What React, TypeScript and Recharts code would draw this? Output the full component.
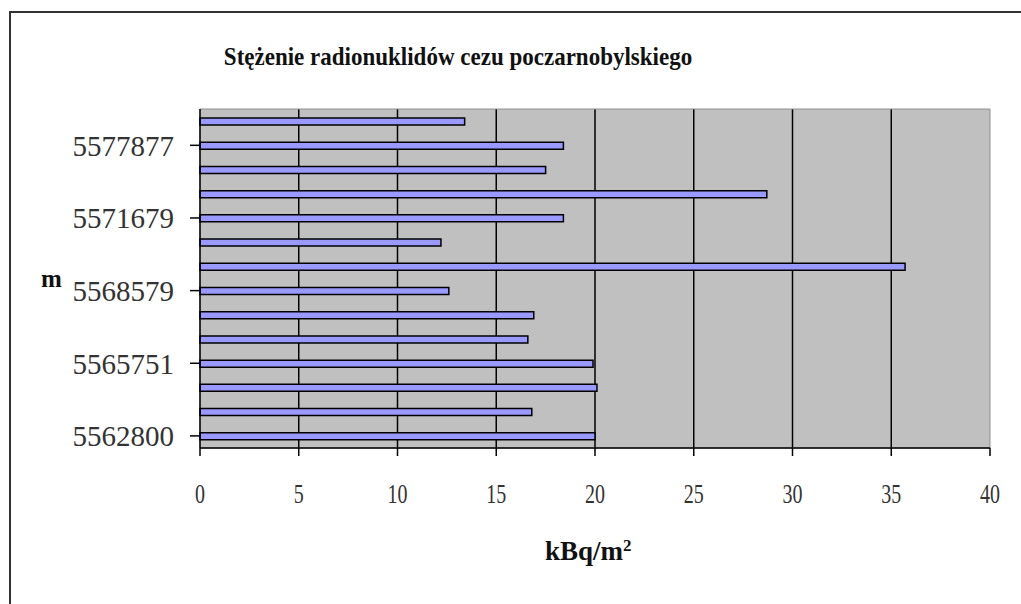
import React from "react";
import {
  BarChart,
  Bar,
  XAxis,
  YAxis,
  CartesianGrid,
  ReferenceArea,
} from "recharts";

// northing (m) of sampling points, bottom to top
const POINTS = [
  "5562800",
  "5563810",
  "5564790",
  "5565751",
  "5566700",
  "5567640",
  "5568579",
  "5569620",
  "5570650",
  "5571679",
  "5573740",
  "5575810",
  "5577877",
  "5579940",
];
// caesium concentration, kBq/m2
const VALUES = [20.0, 16.8, 20.1, 19.9, 16.6, 16.9, 12.6, 35.7, 12.2, 18.4, 28.7, 17.5, 18.4, 13.4];
const X_MAX = 40;
const X_TICKS = [0, 5, 10, 15, 20, 25, 30, 35, 40];
const GRID_TICKS = [5, 10, 15, 20, 25, 30, 35];

const data = POINTS.map((m, i) => ({ m, value: VALUES[i] }));

const SERIF = '"Liberation Serif", "Times New Roman", serif';

const YTick = (props: any) => {
  const { x, y, payload } = props;
  return (
    <text
      x={x - 14}
      y={y}
      dy="0.36em"
      textAnchor="end"
      fontFamily={SERIF}
      fontSize={29}
      fill="#333"
    >
      {payload.value}
    </text>
  );
};

const XTick = (props: any) => {
  const { x, y, payload } = props;
  return (
    <g transform={`translate(${x},${y + 45}) scale(1,1.32)`}>
      <text x={0} y={0} textAnchor="middle" fontFamily={SERIF} fontSize={20} fill="#333">
        {payload.value}
      </text>
    </g>
  );
};

// grid lines only on the inner ticks (the edges are the axis and the frame)
const gridX = (p: any) => {
  const { offset } = p;
  return GRID_TICKS.map((v) => offset.left + (offset.width * v) / X_MAX);
};

export default function App() {
  return (
    <div
      style={{
        position: "absolute",
        left: 0,
        top: 0,
        width: 1021,
        height: 604,
        overflow: "hidden",
        background: "#fff",
        fontFamily: SERIF,
      }}
    >
      {/* outer frame, runs off the right and bottom edges */}
      <div
        style={{
          position: "absolute",
          left: 9,
          top: 11,
          width: 1100,
          height: 700,
          border: "2px solid #333",
        }}
      />

      <div
        style={{
          position: "absolute",
          left: 0,
          width: 916,
          top: 45,
          textAlign: "center",
          fontFamily: SERIF,
          fontSize: 23,
          fontWeight: "bold",
          color: "#111",
          transform: "scaleY(1.06)",
          whiteSpace: "nowrap",
        }}
      >
        Stężenie radionuklidów cezu poczarnobylskiego
      </div>

      <div
        style={{
          position: "absolute",
          left: 41,
          top: 265,
          fontFamily: SERIF,
          fontSize: 25,
          fontWeight: "bold",
          color: "#111",
        }}
      >
        m
      </div>

      <div
        style={{
          position: "absolute",
          left: 545,
          top: 536,
          fontFamily: SERIF,
          fontSize: 27,
          fontWeight: "bold",
          color: "#111",
          whiteSpace: "nowrap",
          lineHeight: "normal",
        }}
      >
        kBq/m<sup style={{ fontSize: 17, verticalAlign: "top", position: "relative", top: 0 }}>2</sup>
      </div>

      <div style={{ position: "absolute", left: 0, top: 0 }}>
        <BarChart
          width={1021}
          height={604}
          data={data}
          layout="vertical"
          margin={{ top: 109, right: 31, bottom: 96, left: 0 }}
        >
          <CartesianGrid
            fill="#C0C0C0"
            fillOpacity={1}
            stroke="#000"
            strokeWidth={1.5}
            horizontal={false}
            verticalCoordinatesGenerator={gridX}
          />
          <ReferenceArea
            x1={0}
            x2={X_MAX}
            fill="none"
            stroke="#909090"
            strokeWidth={1}
            ifOverflow="visible"
          />
          <XAxis
            type="number"
            domain={[0, X_MAX]}
            ticks={X_TICKS}
            interval={0}
            height={60}
            axisLine={{ stroke: "#000", strokeWidth: 1.5 }}
            tickLine={{ stroke: "#000", strokeWidth: 1.5 }}
            tickSize={8}
            tick={<XTick />}
          />
          <YAxis
            type="category"
            dataKey="m"
            reversed
            interval={2}
            width={200}
            axisLine={{ stroke: "#000", strokeWidth: 1.5 }}
            tickLine={{ stroke: "#000", strokeWidth: 1.5 }}
            tickSize={10}
            tick={<YTick />}
          />
          <Bar
            dataKey="value"
            barSize={7}
            fill="#9999FF"
            stroke="#000"
            strokeWidth={1.5}
            isAnimationActive={false}
          />
        </BarChart>
      </div>
    </div>
  );
}
